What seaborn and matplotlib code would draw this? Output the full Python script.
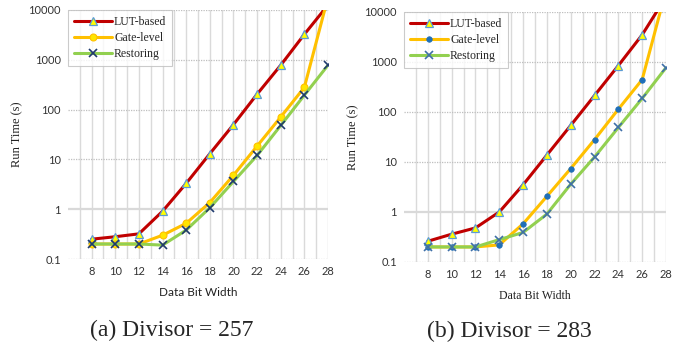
import numpy as np
import pandas as pd
import matplotlib
matplotlib.use("Agg")
import matplotlib.pyplot as plt
import seaborn as sns

# data (run time in seconds)
bits = [8, 10, 12, 14, 16, 18, 20, 22, 24, 26, 28]

lut_257 = [0.25, 0.28, 0.32, 0.91, 3.3, 13, 50, 204, 780, 3250, 12600]
gate_257 = [0.2, 0.2, 0.2, 0.30, 0.52, 1.36, 4.8, 18.5, 71, 280, 18000]
rest_257 = [0.2, 0.2, 0.2, 0.19, 0.38, 1.07, 3.6, 12, 48, 195, 780]

lut_283 = [0.26, 0.36, 0.48, 1.0, 3.5, 13.8, 54, 214, 850, 3500, 20000]
gate_283 = [0.2, 0.2, 0.2, 0.22, 0.58, 2.06, 7.4, 28, 114, 445, 27000]
rest_283 = [0.2, 0.2, 0.2, 0.28, 0.39, 0.91, 3.6, 12.6, 49, 187, 770]

xticks = [8, 10, 12, 14, 16, 18, 20, 22, 24, 26, 28]
yticks = [0.1, 1, 10, 100, 1000, 10000]
ytick_labels = ["0.1", "1", "10", "100", "1000", "10000"]

sns.set_style("white")
plt.rcParams['font.family'] = ['Lato', 'DejaVu Sans']

RED = "#C00000"
ORANGE = "#FFC000"
GREEN = "#92D050"

fig = plt.figure(figsize=(6.91, 3.45), dpi=100)
ax1 = fig.add_axes([68 / 691, 86 / 345, 260 / 691, 249 / 345])
ax2 = fig.add_axes([404 / 691, 83 / 345, 262 / 691, 250 / 345])


def draw_panel(ax, lut, gate, rest, gate_marker, rest_color, xlab_family):
    df = pd.DataFrame({"bits": bits, "LUT-based": lut, "Gate-level": gate, "Restoring": rest})
    ax.set_yscale("log")
    # grid lines
    for v in range(7, 29):
        ax.axvline(v, color="#DADADA", lw=1.0, zorder=0)
    for v in yticks:
        if v == 1:
            ax.axhline(v, color="#D9D9D9", lw=1.6, zorder=0)
        else:
            ax.axhline(v, color="#BFBFBF", lw=0.9, ls=(0, (1, 1)), zorder=0)

    sns.lineplot(data=df, x="bits", y="LUT-based", ax=ax, color=RED, lw=2.2,
                 marker="^", ms=6, mfc="#FFFF00", mec="#5B9BD5", mew=0.9,
                 label="LUT-based", zorder=3)
    sns.lineplot(data=df, x="bits", y="Gate-level", ax=ax, color=ORANGE, lw=2.2,
                 label="Gate-level", zorder=4, **gate_marker)
    sns.lineplot(data=df, x="bits", y="Restoring", ax=ax, color=GREEN, lw=2.2,
                 marker="x", ms=5.5, mec=rest_color, mew=1.2,
                 label="Restoring", zorder=5)

    ax.set_xlim(6, 28)
    ax.set_ylim(0.1, 10000)
    ax.set_xticks(xticks)
    ax.set_xticklabels([str(t) for t in xticks], fontsize=8, color="#333333")
    ax.set_yticks(yticks)
    ax.set_yticklabels(ytick_labels, fontsize=8, color="#333333")
    ax.minorticks_off()
    ax.tick_params(length=0, pad=5)
    for s in ax.spines.values():
        s.set_visible(False)
    ax.set_xlabel("Data Bit Width", fontsize=8.5, family=xlab_family, color="#222222", labelpad=7)
    ax.set_ylabel("Run Time (s)", fontsize=9, family="Liberation Serif", color="#222222", labelpad=4)

    leg = ax.legend(loc="upper left", borderaxespad=0, frameon=True, fancybox=False,
                    handlelength=3.2, handletextpad=0.2, labelspacing=0.35,
                    prop={"family": "Liberation Serif", "size": 8.5}, borderpad=0.5)
    leg.get_frame().set_edgecolor("#BFBFBF")
    leg.get_frame().set_linewidth(0.8)


draw_panel(ax1, lut_257, gate_257, rest_257,
           dict(marker="o", ms=5, mfc="#FFE600", mec="#FFC000", mew=0.8),
           "#1F3A6E", ["Lato", "DejaVu Sans"])
draw_panel(ax2, lut_283, gate_283, rest_283,
           dict(marker="o", ms=4, mfc="#1F6FB8", mec="#1F6FB8", mew=0.5),
           "#3F6FA8", ["Liberation Serif"])

fig.text(172 / 691, 1 - 330 / 345, "(a) Divisor = 257", ha="center", va="center",
         fontsize=17, family="Liberation Serif")
fig.text(509 / 691, 1 - 331 / 345, "(b) Divisor = 283", ha="center", va="center",
         fontsize=17, family="Liberation Serif")

plt.savefig("out.png", dpi=100)
